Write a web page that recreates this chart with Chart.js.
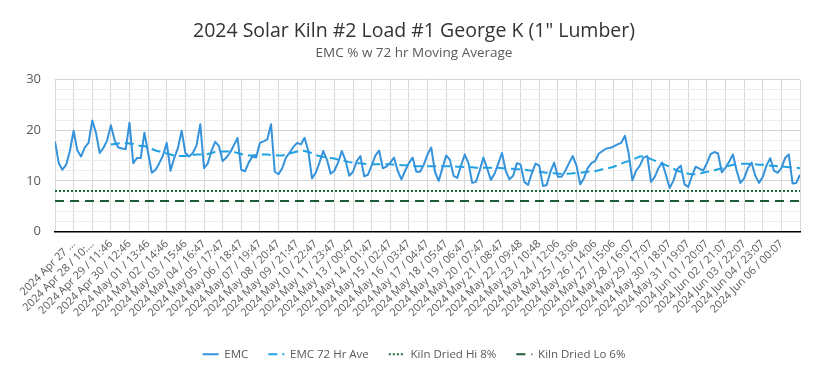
<!DOCTYPE html>
<html>
<head>
<meta charset="utf-8">
<title>2024 Solar Kiln #2 Load #1 George K</title>
<script src="https://cdn.jsdelivr.net/npm/chart.js@4.4.1/dist/chart.umd.min.js"></script>
<style>
    html, body { margin: 0; padding: 0; background: #ffffff; }
</style>
</head>
<body>
<canvas id="kiln-chart" width="828" height="375"></canvas>
<script>
// One reading every 5 hourly records, tick labels every 25 records
const SAMPLE_STEP = 5;
const TICK_STEP = 25;
const RECORD_COUNT = 1000;

const tickLabels = [
    '2024 Apr 27 …', '2024 Apr 28 / 10:…', '2024 Apr 29 / 11:46', '2024 Apr 30 / 12:46',
    '2024 May 01 / 13:46', '2024 May 02 / 14:46', '2024 May 03 / 15:46', '2024 May 04 / 16:47',
    '2024 May 05 / 17:47', '2024 May 06 / 18:47', '2024 May 07 / 19:47', '2024 May 08 / 20:47',
    '2024 May 09 / 21:47', '2024 May 10 / 22:47', '2024 May 11 / 23:47', '2024 May 13 / 00:47',
    '2024 May 14 / 01:47', '2024 May 15 / 02:47', '2024 May 16 / 03:47', '2024 May 17 / 04:47',
    '2024 May 18 / 05:47', '2024 May 19 / 06:47', '2024 May 20 / 07:47', '2024 May 21 / 08:47',
    '2024 May 22 / 09:48', '2024 May 23 / 10:48', '2024 May 24 / 12:06', '2024 May 25 / 13:06',
    '2024 May 26 / 14:06', '2024 May 27 / 15:06', '2024 May 28 / 16:07', '2024 May 29 / 17:07',
    '2024 May 30 / 18:07', '2024 May 31 / 19:07', '2024 Jun 01 / 20:07', '2024 Jun 02 / 21:07',
    '2024 Jun 03 / 22:07', '2024 Jun 04 / 23:07', '2024 Jun 06 / 00:07',
];

// EMC %, 5 readings per tick interval
const emc = [
    17.8, 13.5, 12.2, 13.2, 15.9,
    19.9, 16.0, 14.8, 16.6, 17.5,
    21.9, 19.5, 15.5, 16.5, 18.0,
    21.0, 18.0, 16.6, 16.4, 16.3,
    21.5, 13.5, 14.5, 14.5, 19.5,
    15.5, 11.6, 12.2, 13.5, 15.0,
    17.5, 12.0, 14.5, 16.5, 19.9,
    15.5, 14.8, 15.5, 17.0, 21.2,
    12.5, 13.4, 15.9, 17.7, 16.9,
    13.9, 14.6, 15.6, 17.0, 18.5,
    12.2, 11.9, 13.6, 14.8, 14.6,
    17.5, 17.8, 18.2, 21.2, 11.8,
    11.3, 12.5, 14.6, 15.6, 16.7,
    17.5, 17.2, 18.5, 15.9, 10.5,
    11.6, 13.6, 15.9, 14.2, 11.4,
    12.0, 13.6, 15.9, 14.0, 11.0,
    11.8, 13.9, 14.9, 10.9, 11.2,
    13.0, 15.0, 16.0, 12.5, 12.8,
    13.6, 14.6, 12.0, 10.3, 12.0,
    13.5, 14.6, 11.8, 11.8, 13.2,
    15.2, 16.6, 11.8, 10.0, 12.5,
    15.0, 14.2, 11.0, 10.6, 13.0,
    15.2, 13.5, 9.6, 9.8, 12.0,
    14.6, 12.5, 10.2, 11.4, 13.4,
    15.5, 12.0, 10.3, 11.0, 13.5,
    13.2, 9.8, 9.2, 11.5, 13.4,
    13.0, 9.0, 9.2, 11.8, 13.6,
    10.8, 10.8, 12.0, 13.5, 14.9,
    13.0, 9.3, 10.5, 12.5, 13.5,
    13.9, 15.4, 15.9, 16.4, 16.5,
    16.8, 17.2, 17.5, 18.9, 15.4,
    10.1, 12.0, 13.0, 14.6, 14.9,
    9.8, 10.8, 12.5, 13.6, 11.2,
    8.6, 10.0, 12.3, 13.0, 9.3,
    8.8, 11.0, 12.8, 12.4, 12.0,
    13.5, 15.3, 15.7, 15.4, 11.7,
    12.6, 13.8, 15.2, 12.0, 9.6,
    10.5, 12.5, 13.6, 11.0, 9.6,
    10.8, 13.0, 14.5, 12.0, 11.6,
    12.5, 14.5, 15.2, 9.5, 9.6,
    11.2,
];

// 72 hr moving average (starts after the first 72 records)
const emcAve72 = [
    null, null, null, null, null,
    null, null, null, null, null,
    null, null, null, null, null,
    17.2, 17.3, 17.4, 17.5, 17.5,
    17.4, 17.3, 17.1, 16.9, 16.9,
    16.5, 16.3, 16.0, 15.8, 15.6,
    15.4, 15.2, 15.0, 14.9, 14.9,
    14.9, 15.0, 15.1, 15.2, 15.2,
    15.2, 15.3, 15.5, 15.7, 15.8,
    15.8, 15.8, 15.8, 15.7, 15.5,
    15.3, 15.1, 15.0, 15.0, 15.1,
    15.2, 15.2, 15.2, 15.1, 15.1,
    15.0, 15.0, 15.2, 15.4, 15.6,
    15.8, 16.0, 15.9, 15.7, 15.5,
    15.1, 14.9, 14.7, 14.6, 14.5,
    14.4, 14.2, 14.0, 13.9, 13.7,
    13.6, 13.5, 13.5, 13.4, 13.3,
    13.3, 13.3, 13.3, 13.3, 13.3,
    13.3, 13.2, 13.2, 13.1, 13.1,
    13.0, 13.0, 12.9, 12.9, 12.9,
    12.9, 12.9, 12.9, 12.9, 12.9,
    12.9, 12.9, 12.9, 12.8, 12.8,
    12.7, 12.7, 12.7, 12.6, 12.6,
    12.6, 12.6, 12.6, 12.6, 12.6,
    12.5, 12.5, 12.4, 12.4, 12.3,
    12.3, 12.2, 12.1, 12.0, 11.9,
    11.8, 11.7, 11.6, 11.6, 11.5,
    11.4, 11.4, 11.4, 11.4, 11.5,
    11.6, 11.6, 11.7, 11.8, 11.9,
    11.9, 12.1, 12.3, 12.5, 12.6,
    12.8, 13.1, 13.4, 13.7, 13.9,
    14.2, 14.5, 14.8, 14.9, 14.6,
    14.3, 14.0, 13.7, 13.4, 13.1,
    12.8, 12.4, 12.0, 11.8, 11.6,
    11.4, 11.3, 11.3, 11.4, 11.6,
    11.8, 11.9, 12.1, 12.3, 12.5,
    12.8, 13.0, 13.2, 13.3, 13.4,
    13.4, 13.4, 13.3, 13.3, 13.2,
    13.2, 13.1, 13.0, 13.0, 12.9,
    12.8, 12.8, 12.7, 12.6, 12.6,
    12.5,
];

const kilnDriedHi = 8;
const kilnDriedLo = 6;

const FONT = '"Open Sans", "Noto Sans", sans-serif';
const TEXT_GREY = '#595959';

const toPoints = (values) => values.map((v, i) => ({ x: i * SAMPLE_STEP, y: v }));
const flatLine = (v) => [{ x: 0, y: v }, { x: RECORD_COUNT, y: v }];

// Legend samples take the dataset line style, not the point style
const lineLegendLabels = (chart) => Chart.defaults.plugins.legend.labels.generateLabels(chart)
    .map((item) => {
        const ds = chart.data.datasets[item.datasetIndex];
        return {
            ...item,
            strokeStyle: ds.borderColor,
            lineWidth: ds.borderWidth,
            lineDash: ds.borderDash || [],
        };
    });

const canvas = document.getElementById('kiln-chart');

new Chart(canvas, {
    type: 'line',
    data: {
        datasets: [{
            label: 'EMC',
            data: toPoints(emc),
            borderColor: '#3593DB',
            borderWidth: 2,
            borderJoinStyle: 'round',
        }, {
            label: 'EMC 72 Hr Ave',
            data: toPoints(emcAve72),
            borderColor: '#1FA3E2',
            borderWidth: 2,
            borderDash: [9, 5],
        }, {
            label: 'Kiln Dried Hi 8%',
            data: flatLine(kilnDriedHi),
            borderColor: '#1F6A3C',
            borderWidth: 2,
            borderDash: [2, 2],
        }, {
            label: 'Kiln Dried Lo 6%',
            data: flatLine(kilnDriedLo),
            borderColor: '#1D5C37',
            borderWidth: 2,
            borderDash: [9, 6],
        }],
    },
    options: {
        responsive: false,
        animation: false,
        elements: {
            point: { radius: 0 },
            line: { tension: 0 },
        },
        layout: {
            padding: { left: 0, right: 0, top: 0, bottom: 5 },
        },
        scales: {
            x: {
                type: 'linear',
                min: 0,
                max: RECORD_COUNT,
                afterFit: (scale) => { scale.height = 97; },
                grid: { color: '#d9d9d9', drawTicks: false },
                border: { display: true, color: '#000000', width: 1.5 },
                ticks: {
                    stepSize: TICK_STEP,
                    maxTicksLimit: 100,
                    autoSkip: false,
                    minRotation: 45,
                    maxRotation: 45,
                    padding: 6,
                    color: TEXT_GREY,
                    font: { family: FONT, size: 11 },
                    callback: (value) => tickLabels[value / TICK_STEP - 1] ?? '',
                },
            },
            y: {
                min: 0,
                max: 30,
                afterFit: (scale) => { scale.width = 55; },
                grid: {
                    drawTicks: false,
                    color: (ctx) => (ctx.tick.value % 10 === 0 ? '#d4d4d4' : '#ededed'),
                },
                border: { display: false },
                ticks: {
                    stepSize: 2,
                    autoSkip: false,
                    padding: 14,
                    color: TEXT_GREY,
                    font: { family: FONT, size: 13 },
                    callback: (value) => (value % 10 === 0 ? value : ''),
                },
            },
            // empty right margin so titles and legend stay centred on the page
            yRight: {
                position: 'right',
                afterFit: (scale) => { scale.width = 28; },
                grid: { display: false },
                border: { display: false },
                ticks: { display: false },
            },
        },
        plugins: {
            title: {
                display: true,
                text: '2024 Solar Kiln #2 Load #1 George K (1" Lumber)',
                color: '#333333',
                font: { family: FONT, size: 19.5, weight: 'normal' },
                padding: { top: 20, bottom: 2 },
            },
            subtitle: {
                display: true,
                text: 'EMC % w 72 hr Moving Average',
                color: TEXT_GREY,
                font: { family: FONT, size: 13.5 },
                padding: { top: 0, bottom: 18 },
            },
            legend: {
                position: 'bottom',
                labels: {
                    usePointStyle: true,
                    pointStyle: 'line',
                    pointStyleWidth: 16,
                    padding: 20,
                    color: TEXT_GREY,
                    font: { family: FONT, size: 11.5 },
                    generateLabels: lineLegendLabels,
                },
            },
            tooltip: { enabled: false },
        },
    },
});
</script>
</body>
</html>
